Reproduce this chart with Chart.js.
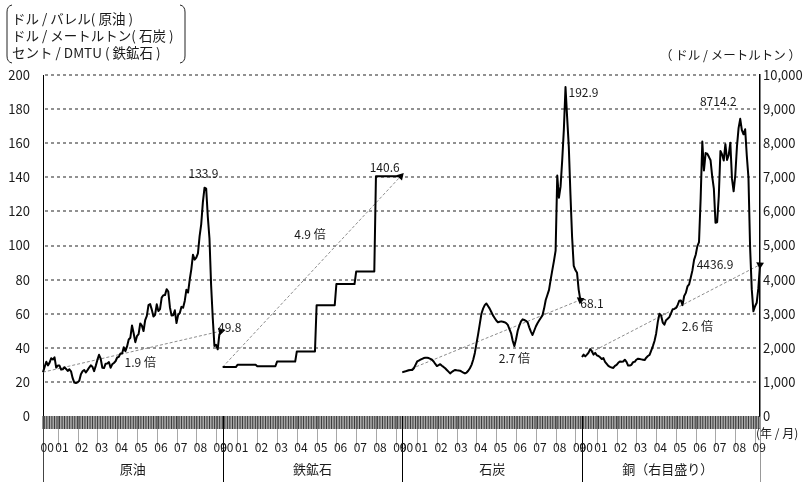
<!DOCTYPE html>
<html>
<head>
<meta charset="utf-8">
<script src="https://cdn.jsdelivr.net/npm/chart.js@4.4.1/dist/chart.umd.min.js"></script>
<style>
html,body{margin:0;padding:0;background:#fff;}
#wrap{position:relative;width:803px;height:482px;}
</style>
</head>
<body>
<div id="wrap"><canvas id="c" width="803" height="482"></canvas></div>
<script>
// ---------------- data ----------------
const segmentNames = ['原油', '鉄鉱石', '石炭', '銅（右目盛り）'];
const yearTickLabels = ['00','01','02','03','04','05','06','07','08','09'];
const leftTicks = [0, 20, 40, 60, 80, 100, 120, 140, 160, 180, 200];
// monthly, 2000/04 .. 2009/04 (109 months)
const crudeOil = [
  25.7, 28.8, 31.8, 29.7, 31.3, 33.9, 33.1, 34.4, 28.4,
  29.6, 29.6, 27.2, 27.4, 28.6, 27.6, 26.4, 27.4, 26.2, 22.2, 19.6, 19.3,
  19.7, 20.7, 24.5, 26.2, 27.0, 25.5, 26.9, 28.4, 29.7, 28.9, 26.3, 29.4,
  32.9, 35.9, 33.6, 28.3, 28.1, 30.7, 30.8, 31.6, 28.3, 30.3, 31.1, 32.1,
  34.3, 34.7, 36.7, 36.7, 40.3, 38.0, 40.8, 44.9, 45.9, 53.1, 48.5, 43.3,
  46.8, 48.0, 54.3, 53.0, 49.8, 56.3, 58.7, 65.0, 65.6, 62.4, 58.3, 59.4,
  65.5, 61.6, 62.7, 69.4, 70.8, 70.9, 74.4, 73.0, 63.8, 58.9, 59.1, 62.0,
  54.5, 59.3, 60.4, 64.0, 63.5, 67.5, 74.1, 72.4, 79.9, 86.2, 94.6, 91.7,
  92.9, 95.4, 105.4, 112.6, 125.4, 133.9, 133.4, 116.7, 104.1, 76.6, 57.3, 41.1,
  41.7, 39.1, 47.9, 49.8
];
const ironOre = [
  28.7, 28.7, 28.7, 28.7, 28.7, 28.7, 28.7, 28.7, 28.7,
  30.0, 30.0, 30.0, 30.0, 30.0, 30.0, 30.0, 30.0, 30.0, 30.0, 30.0, 30.0,
  29.2, 29.2, 29.2, 29.2, 29.2, 29.2, 29.2, 29.2, 29.2, 29.2, 29.2, 29.2,
  31.9, 31.9, 31.9, 31.9, 31.9, 31.9, 31.9, 31.9, 31.9, 31.9, 31.9, 31.9,
  37.9, 37.9, 37.9, 37.9, 37.9, 37.9, 37.9, 37.9, 37.9, 37.9, 37.9, 37.9,
  65.0, 65.0, 65.0, 65.0, 65.0, 65.0, 65.0, 65.0, 65.0, 65.0, 65.0, 65.0,
  77.4, 77.4, 77.4, 77.4, 77.4, 77.4, 77.4, 77.4, 77.4, 77.4, 77.4, 77.4,
  84.7, 84.7, 84.7, 84.7, 84.7, 84.7, 84.7, 84.7, 84.7, 84.7, 84.7, 84.7,
  140.6, 140.6, 140.6, 140.6, 140.6, 140.6, 140.6, 140.6, 140.6, 140.6, 140.6, 140.6,
  140.6, 140.6, 140.6, 140.6
];
const coal = [
  25.6, 26.0, 26.2, 26.5, 26.8, 27.0, 27.0, 28.0, 30.0,
  32.0, 32.5, 33.0, 33.5, 34.0, 34.2, 34.2, 34.0, 33.5, 33.0, 32.0, 30.5,
  29.3, 29.8, 30.4, 29.5, 28.8, 28.0, 27.0, 26.0, 25.0, 25.8, 26.5, 27.0,
  26.8, 26.7, 26.6, 26.0, 25.5, 25.0, 25.5, 26.5, 28.0, 30.0, 33.0, 37.0,
  42.6, 48.0, 54.0, 60.0, 63.0, 65.0, 66.0, 64.5, 63.0, 61.0, 59.0, 57.5,
  56.0, 55.0, 55.3, 55.5, 55.3, 55.0, 54.5, 53.4, 51.0, 48.5, 44.0, 41.0,
  45.0, 50.0, 53.0, 55.5, 56.7, 56.3, 55.8, 55.0, 52.0, 49.5, 47.5, 50.0,
  52.5, 54.4, 56.0, 57.5, 59.0, 63.0, 68.0, 71.0, 74.0, 80.0, 85.6, 91.0,
  97.0, 141.0, 128.0, 134.5, 150.0, 168.0, 192.9, 175.0, 158.0, 130.0, 105.0, 88.0,
  85.6, 84.0, 74.0, 68.1
];
const copper = [
  1730, 1800, 1750, 1800, 1860, 1960, 1900, 1800, 1850,
  1780, 1760, 1720, 1670, 1700, 1590, 1530, 1470, 1440, 1420, 1410, 1470,
  1500, 1560, 1600, 1590, 1600, 1650, 1590, 1480, 1480, 1500, 1580, 1590,
  1650, 1680, 1670, 1660, 1650, 1640, 1710, 1760, 1790, 1920, 2050, 2200,
  2420, 2760, 3000, 2950, 2740, 2680, 2810, 2850, 2900, 3010, 3130, 3140,
  3170, 3250, 3380, 3390, 3250, 3520, 3610, 3800, 3860, 4060, 4270, 4580,
  4730, 4980, 5100, 6390, 8050, 7200, 7710, 7690, 7600, 7500, 7030, 6670,
  5670, 5680, 6450, 7770, 7670, 7490, 7970, 7510, 7650, 8010, 6960, 6590,
  7060, 7890, 8440, 8714.2, 8380, 8260, 8410, 7630, 6990, 4930, 3720, 3070,
  3220, 3320, 3750, 4436.9
];
const ratioLabels = ['1.9 倍', '4.9 倍', '2.7 倍', '2.6 倍'];

// ---------------- build categories ----------------
const months = [];
for (let y = 2000; y <= 2009; y++) {
  for (let m = 1; m <= 12; m++) {
    if ((y > 2000 || m >= 4) && (y < 2009 || m <= 4)) months.push(String(y).slice(2) + '/' + String(m).padStart(2, '0'));
  }
}
const N = months.length; // 109
const labels = [];
segmentNames.forEach((s, k) => months.forEach(m => labels.push(k + ':' + m)));
const TOTAL = labels.length;

function place(seg, arr) {
  const out = new Array(TOTAL).fill(null);
  arr.forEach((v, i) => { out[seg * N + i] = v; });
  return out;
}
function trend(seg, arr) {
  const out = new Array(TOTAL).fill(null);
  out[seg * N] = arr[0];
  out[seg * N + arr.length - 1] = arr[arr.length - 1];
  return out;
}

const FONT = '"Noto Sans CJK JP", "Noto Sans", sans-serif';
const TXT = '#1a1a1a';

const seriesList = [
  {seg: 0, data: crudeOil, axis: 'y'},
  {seg: 1, data: ironOre, axis: 'y'},
  {seg: 2, data: coal, axis: 'y'},
  {seg: 3, data: copper, axis: 'y1'}
];

const datasets = [];
seriesList.forEach(s => {
  datasets.push({
    data: place(s.seg, s.data), yAxisID: s.axis, fill: false,
    borderColor: '#000', borderWidth: 2, pointRadius: 0, tension: 0, spanGaps: false
  });
});
seriesList.forEach(s => {
  const endIdx = s.seg * N + s.data.length - 1;
  const startIdx = s.seg * N;
  datasets.push({
    data: trend(s.seg, s.data), yAxisID: s.axis, spanGaps: true, fill: false,
    borderColor: '#8c8c8c', borderWidth: 1, borderDash: [3, 2],
    pointStyle: 'triangle',
    pointRadius: ctx => ctx.dataIndex === endIdx ? 4.5 : 0,
    pointBackgroundColor: '#000', pointBorderColor: '#000', pointBorderWidth: 0,
    rotation: ctx => {
      const ch = ctx.chart, xs = ch.scales.x, ys = ch.scales[s.axis];
      if (!xs || !ys) return 0;
      const x0 = xs.getPixelForValue(startIdx), y0 = ys.getPixelForValue(s.data[0]);
      const x1 = xs.getPixelForValue(endIdx), y1 = ys.getPixelForValue(s.data[s.data.length - 1]);
      return Math.atan2(y1 - y0, x1 - x0) * 180 / Math.PI + 90;
    }
  });
});

// value annotations anchored to data points
const valueNotes = [
  {seg: 0, i: 98,  axis: 'y',  v: 133.9,  text: '133.9',  dx: -1, dy: -14, align: 'center'},
  {seg: 0, i: 108, axis: 'y',  v: 49.8,   text: '49.8',   dx: -3, dy: -4,  align: 'left'},
  {seg: 1, i: 108, axis: 'y',  v: 140.6,  text: '140.6',  dx: -1, dy: -9,  align: 'right'},
  {seg: 2, i: 99,  axis: 'y',  v: 192.9,  text: '192.9',  dx: 3,  dy: 5,   align: 'left'},
  {seg: 2, i: 108, axis: 'y',  v: 68.1,   text: '68.1',   dx: 0,  dy: 4,   align: 'left'},
  {seg: 3, i: 96,  axis: 'y1', v: 8714.2, text: '8714.2', dx: -22, dy: -17, align: 'center'},
  {seg: 3, i: 108, axis: 'y1', v: 4436.9, text: '4436.9', dx: -45, dy: 0,  align: 'center'}
];
// ratio labels: [segment, month index (fractional), value on axis]
const ratioPos = [
  {seg: 0, i: 59,  axis: 'y',  v: 31.7},
  {seg: 1, i: 53,  axis: 'y',  v: 106.7},
  {seg: 2, i: 68,  axis: 'y',  v: 34},
  {seg: 3, i: 70,  axis: 'y1', v: 2640}
];

function drawGrid(chart) {
  const ctx = chart.ctx, ys = chart.scales.y, ca = chart.chartArea;
  ctx.save();
  ctx.strokeStyle = '#6e6e6e';
  ctx.lineWidth = 1.3;
  ctx.setLineDash([3, 3]);
  ctx.beginPath();
  leftTicks.forEach(v => {
    if (v === 0) return;
    const y = Math.round(ys.getPixelForValue(v));
    ctx.moveTo(ca.left + 2, y);
    ctx.lineTo(ca.right - 1, y);
  });
  ctx.stroke();
  ctx.restore();
}

const deco = {
  id: 'deco',
  beforeDatasetsDraw(chart) { drawGrid(chart); },
  afterDraw(chart) {
    const ctx = chart.ctx, xs = chart.scales.x, ca = chart.chartArea;
    const bottom = ca.bottom;
    ctx.save();
    // --- unit box top-left ---
    ctx.fillStyle = TXT;
    ctx.font = '13.5px ' + FONT;
    ctx.textAlign = 'left'; ctx.textBaseline = 'middle';
    ctx.fillText('ドル / バレル( 原油 )', 12, 19);
    ctx.fillText('ドル / メートルトン( 石炭 )', 12, 36);
    ctx.fillText('セント / DMTU ( 鉄鉱石 )', 12, 53);
    ctx.strokeStyle = '#222'; ctx.lineWidth = 1;
    ctx.beginPath();
    ctx.moveTo(12, 5); ctx.quadraticCurveTo(7, 6, 7, 12); ctx.lineTo(7, 56); ctx.quadraticCurveTo(7, 62, 12, 63);
    ctx.moveTo(180, 5); ctx.quadraticCurveTo(185, 6, 185, 12); ctx.lineTo(185, 56); ctx.quadraticCurveTo(185, 62, 180, 63);
    ctx.stroke();
    // right unit
    ctx.font = '12.5px ' + FONT;
    ctx.textAlign = 'right';
    ctx.fillText('（ ドル / メートルトン ）', 801, 55);

    // --- x axis decoration ---
    const px = i => xs.getPixelForValue(i);
    // year ticks (long, light)
    ctx.strokeStyle = '#a8a8a8'; ctx.lineWidth = 1;
    ctx.beginPath();
    for (let k = 0; k < 4; k++) {
      for (let i = 0; i < N; i++) {
        if (i === 0 || months[i].endsWith('/01')) {
          const x = Math.round(px(k * N + i)) + 0.5;
          ctx.moveTo(x, bottom); ctx.lineTo(x, bottom + 31);
        }
      }
    }
    ctx.stroke();
    // monthly ticks
    ctx.strokeStyle = '#3c3c3c'; ctx.lineWidth = 1.1;
    ctx.beginPath();
    for (let i = 0; i < TOTAL; i++) {
      const x = px(i);
      ctx.moveTo(x, bottom); ctx.lineTo(x, bottom + 13);
    }
    ctx.stroke();
    // segment dividers
    ctx.strokeStyle = '#000'; ctx.lineWidth = 1;
    ctx.beginPath();
    for (let k = 1; k < 4; k++) {
      const x = Math.round(px(k * N)) + 0.5;
      ctx.moveTo(x, bottom); ctx.lineTo(x, 482);
    }
    ctx.stroke();
    ctx.strokeStyle = '#444';
    ctx.beginPath();
    ctx.moveTo(Math.round(ca.left) + 0.5, bottom); ctx.lineTo(Math.round(ca.left) + 0.5, 482);
    ctx.stroke();
    ctx.strokeStyle = '#999';
    ctx.beginPath();
    ctx.moveTo(Math.round(ca.right) + 0.5, bottom); ctx.lineTo(Math.round(ca.right) + 0.5, 482);
    ctx.stroke();
    // year labels
    ctx.fillStyle = TXT;
    ctx.font = '12px ' + FONT;
    ctx.textAlign = 'left'; ctx.textBaseline = 'middle';
    for (let k = 0; k < 4; k++) {
      let yi = 0;
      for (let i = 0; i < N; i++) {
        if (i === 0 || months[i].endsWith('/01')) {
          ctx.fillText(yearTickLabels[yi++], px(k * N + i) - 2.5, bottom + 31);
        }
      }
    }
    // segment names
    ctx.font = '13px ' + FONT;
    ctx.textAlign = 'center';
    for (let k = 0; k < 4; k++) {
      const c = (px(k * N) + px(k * N + N)) / 2;
      ctx.fillText(segmentNames[k], k === 3 ? c - 4 : c, bottom + 53);
    }
    // (年 / 月)
    ctx.font = '12px ' + FONT;
    ctx.textAlign = 'left';
    ctx.fillText('(年 / 月)', 756, bottom + 17);

    // --- annotations ---
    ctx.font = '12px ' + FONT;
    ctx.fillStyle = TXT;
    valueNotes.forEach(n => {
      const x = px(n.seg * N + n.i) + n.dx;
      const y = chart.scales[n.axis].getPixelForValue(n.v) + n.dy;
      ctx.textAlign = n.align;
      ctx.fillText(n.text, x, y);
    });
    ctx.textAlign = 'center';
    ratioPos.forEach((r, k) => {
      const x = px(r.seg * N + r.i);
      const y = chart.scales[r.axis].getPixelForValue(r.v);
      ctx.fillText(ratioLabels[k], x, y);
    });
    ctx.restore();
  }
};

new Chart(document.getElementById('c'), {
  type: 'line',
  data: {labels, datasets},
  options: {
    responsive: false, animation: false,
    layout: {padding: {top: 75, bottom: 66, left: 0, right: 0}},
    plugins: {legend: {display: false}, tooltip: {enabled: false}},
    elements: {line: {borderJoinStyle: 'round'}},
    scales: {
      x: {type: 'category', display: false},
      y: {
        position: 'left', min: 0, max: 200,
        ticks: {stepSize: 20, padding: 13, color: TXT, font: {family: FONT, size: 13}},
        grid: {drawOnChartArea: false, drawTicks: false},
        border: {color: '#000', width: 1},
        afterFit(s) { s.width = 43; }
      },
      y1: {
        position: 'right', min: 0, max: 10000,
        ticks: {stepSize: 1000, padding: 3, color: TXT, font: {family: FONT, size: 13},
                callback: v => v.toLocaleString('en-US')},
        grid: {drawOnChartArea: false, drawTicks: false},
        border: {color: '#000', width: 1.5},
        afterFit(s) { s.width = 43; }
      }
    }
  },
  plugins: [deco]
});
</script>
</body>
</html>
